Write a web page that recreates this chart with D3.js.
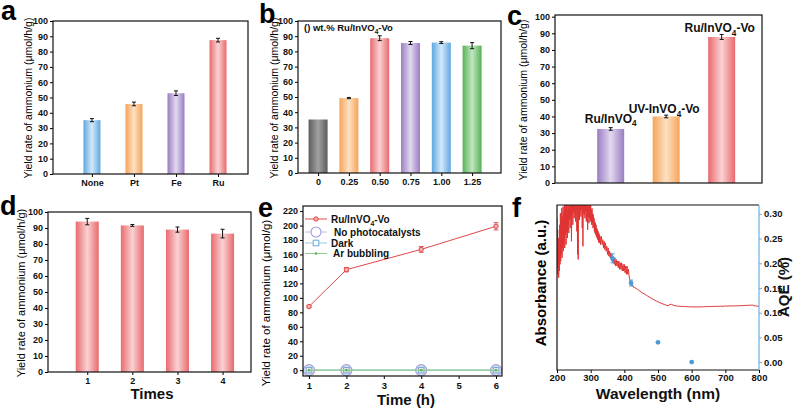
<!DOCTYPE html>
<html><head><meta charset="utf-8">
<script src="https://cdn.jsdelivr.net/npm/d3@7"></script>
<style>
body{margin:0;background:#fff;}
svg text{font-family:"Liberation Sans",Arial,sans-serif;}
</style></head><body>
<svg id="fig" width="800" height="409"></svg>
<script>
// ---- data ----
var catsA = ["None","Pt","Fe","Ru"],
    valsA = [35.2, 45.8, 52.8, 87.5],
    errsA = [1.0, 1.2, 1.5, 1.2],
    colsA = ["blue","orange","purple","red"];

var catsB = ["0","0.25","0.50","0.75","1.00","1.25"],
    valsB = [35.2, 49.3, 88.7, 85.5, 85.8, 83.8],
    errsB = [0, 0.4, 1.6, 1.0, 0.6, 2.0],
    colsB = ["gray","orange","red","purple","blue","green"];

var catsC = ["Ru/InVO_4","UV-InVO_4-Vo","Ru/InVO_4-Vo"],
    valsC = [32.5, 40.0, 87.8],
    errsC = [0.8, 0.8, 1.5],
    colsC = ["purple","orange","red"];

var catsD = ["1","2","3","4"],
    valsD = [94.0, 91.6, 89.0, 86.5],
    errsD = [2.0, 0.6, 1.6, 2.7],
    colsD = ["red","red","red","red"];

var ticks100 = [0,10,20,30,40,50,60,70,80,90,100];

var timeE = [1, 2, 4, 6],
    ruE = [88, 139, 167, 199],
    ruErrE = [1.5, 3, 4, 5],
    noCatE = [0, 0, 0, 0],
    darkE = [0, 0, 0, 0],
    arE = [0, 0, 0, 0],
    yTicksE = [0,20,40,60,80,100,120,140,160,180,200,220],
    xTicksE = [1,2,3,4,5,6];

// absorbance (a.u.), three sampling segments
var absStart1 = 200, absStep1 = 1, absVals1 = [
 0.92,0.62,0.85,0.58,0.80,0.56,0.74,0.60,0.88,0.64,
 0.95,0.66,0.90,0.70,0.98,0.68,0.93,0.74,0.99,0.72,
 0.96,0.78,1.01,0.74,0.97,0.82,1.02,0.76,1.00,0.84,
 0.97,0.80,1.03,0.88,0.99,0.83,1.04,0.91,1.00,0.86,
 1.05,0.92,1.02,0.78,1.06,0.94,1.03,0.88,1.07,0.96,
 1.04,0.92,1.08,0.95,1.03,0.90,1.06,0.97,1.02,0.84,
 1.05,0.70,1.04,0.67,1.06,0.94,1.03,0.91,1.07,0.96,
 1.02,0.93,1.06,0.97,1.03,0.86,1.05,0.75,1.04,0.95,
 1.06,0.94,1.02,0.92,1.05,0.96,1.01,0.90,1.04,0.93,
 1.00,0.85,1.03,0.93,0.99,0.89,1.02,0.92,0.98,0.90,
 1.00,0.91,0.97,0.88,0.98,0.89,0.95,0.86,0.94,0.87,
 0.92,0.84,0.90,0.83,0.89,0.82,0.88,0.81,0.86,0.80,
 0.85,0.79,0.84,0.78,0.83,0.77,0.82,0.77,0.81,0.76,
 0.79];
var absStart2 = 332, absStep2 = 2, absVals2 = [
 0.81,0.76,0.79,0.74,0.78,0.73,0.77,0.72,0.75,0.70,
 0.74,0.69,0.72,0.68,0.71,0.66,0.70,0.65,0.68,0.64,
 0.68,0.63,0.67,0.63,0.66,0.62,0.66,0.61,0.65,0.61,
 0.65,0.60,0.64,0.60,0.64,0.59,0.63,0.58,0.63,0.58,
 0.61,0.57,0.55,0.53,0.52,0.53,0.51,0.51,0.50,0.50];
var absStart3 = 435, absStep3 = 5, absVals3 = [
 0.495,0.487,0.480,0.472,0.466,0.460,0.454,0.447,0.441,0.435,
 0.429,0.423,0.418,0.413,0.408,0.404,0.400,0.396,0.392,0.389,
 0.397,0.398,0.393,0.390,0.388,0.387,0.386,0.385,0.386,0.384,
 0.384,0.383,0.383,0.382,0.383,0.382,0.382,0.383,0.382,0.383,
 0.383,0.384,0.384,0.385,0.384,0.385,0.386,0.385,0.386,0.386,
 0.387,0.386,0.387,0.388,0.387,0.388,0.388,0.389,0.388,0.389,
 0.389,0.390,0.389,0.391,0.390,0.392,0.391,0.393,0.392,0.394,
 0.390,0.388,0.387,0.386];

var aqeWl = [365, 420, 500, 600],
    aqeVal = [0.21, 0.16, 0.04, 0.0],
    aqeErr = [0.009, 0.006, 0, 0],
    xTicksF = [200,300,400,500,600,700,800],
    yTicksF = [0,0.05,0.10,0.15,0.20,0.25,0.30];

var palette = {
  blue:["#5ea8e0","#d4e9f9"], orange:["#f5a45a","#fde1c3"],
  purple:["#9a7dc2","#e2d8f0"], red:["#e86a6e","#fad2d3"],
  gray:["#5c5c5c","#a2a2a2"], green:["#56b256","#c2e6c2"]
};

var svg = d3.select("#fig");
var defs = svg.append("defs");
Object.keys(palette).forEach(function(k){
  var lg = defs.append("linearGradient").attr("id","g-"+k)
    .attr("x1","0%").attr("x2","100%").attr("y1","0%").attr("y2","0%");
  lg.append("stop").attr("offset","0%").attr("stop-color",palette[k][0]);
  lg.append("stop").attr("offset","50%").attr("stop-color",palette[k][1]);
  lg.append("stop").attr("offset","100%").attr("stop-color",palette[k][0]);
});

// text with "_4" style subscripts
function richText(sel, str, fs){
  var parts = str.split(/_(\d)/);
  parts.forEach(function(p, i){
    if(!p) return;
    var t = sel.append("tspan").text(p);
    if(i % 2 === 1) t.attr("font-size", fs*0.68).attr("dy", fs*0.3);
    else if(i > 1) t.attr("dy", -fs*0.3);
  });
}

function styleAxis(ax, fs){
  ax.attr("font-family","'Liberation Sans',Arial,sans-serif")
    .attr("font-size", fs).attr("font-weight","bold");
  ax.selectAll("text").attr("fill","#111");
  ax.select(".domain").remove();
}

function letter(s, x, y){
  svg.append("text").attr("x",x).attr("y",y).text(s)
    .attr("font-size",27).attr("font-weight","bold").attr("fill","#000");
}

function yTitle(s, x, y, fs, wt){
  svg.append("text").attr("transform","translate("+x+","+y+") rotate(-90)")
    .attr("text-anchor","middle").attr("font-size",fs).attr("font-weight",wt||"normal")
    .attr("fill","#000").text(s);
}

function barPanel(o){
  var g = svg.append("g");
  var x = d3.scalePoint().domain(o.cats).range([o.left,o.right]).padding(o.pad).align(o.align);
  var y = d3.scaleLinear().domain([0,o.ymax]).range([o.bottom,o.top]);
  var rows = o.vals.map(function(v,i){ return {c:o.cats[i], v:v, e:o.errs[i], col:o.cols[i]}; });
  g.selectAll("rect.bar").data(rows).join("rect").attr("class","bar")
    .attr("x", d => x(d.c) - o.bw/2).attr("y", d => y(d.v))
    .attr("width", o.bw).attr("height", d => y(0) - y(d.v))
    .attr("fill", d => "url(#g-"+d.col+")");
  var eb = g.selectAll("g.err").data(rows.filter(d => d.e > 0)).join("g").attr("class","err")
    .attr("stroke","#111").attr("stroke-width",1);
  eb.append("line").attr("x1", d => x(d.c)).attr("x2", d => x(d.c))
    .attr("y1", d => y(d.v - d.e)).attr("y2", d => y(d.v + d.e));
  eb.append("line").attr("x1", d => x(d.c)-2).attr("x2", d => x(d.c)+2)
    .attr("y1", d => y(d.v - d.e)).attr("y2", d => y(d.v - d.e));
  eb.append("line").attr("x1", d => x(d.c)-2).attr("x2", d => x(d.c)+2)
    .attr("y1", d => y(d.v + d.e)).attr("y2", d => y(d.v + d.e));

  var ya = g.append("g").attr("transform","translate("+o.left+",0)")
    .call(d3.axisLeft(y).tickValues(ticks100).tickSize(3).tickPadding(2));
  styleAxis(ya, 9);
  var xa = g.append("g").attr("transform","translate(0,"+o.bottom+")")
    .call(d3.axisBottom(x).tickSize(o.xlabels ? 3 : 0).tickPadding(3));
  styleAxis(xa, 9);
  if(!o.xlabels) xa.selectAll("text").remove();
  g.append("rect").attr("x",o.left).attr("y",o.top).attr("width",o.right-o.left)
    .attr("height",o.bottom-o.top).attr("fill","none").attr("stroke","#111").attr("stroke-width",1.2);
  return {g:g, x:x, y:y};
}

// ---- a ----
barPanel({cats:catsA, vals:valsA, errs:errsA, cols:colsA, left:53, right:248, top:21, bottom:174,
  ymax:100, pad:0.82, align:0.565, bw:17, xlabels:true});
letter("a", 1, 20);
yTitle("Yield rate of ammonium (\u03bcmol/h/g)", 32, 98, 10.5);

// ---- b ----
barPanel({cats:catsB, vals:valsB, errs:errsB, cols:colsB, left:298, right:501, top:21, bottom:173,
  ymax:100, pad:0.795, align:0.41, bw:19, xlabels:true});
letter("b", 259, 23);
yTitle("Yield rate of ammonium (\u03bcmol/h/g)", 278, 98, 10.5);
richText(svg.append("text").attr("x",304).attr("y",31).attr("font-size",9.5)
  .attr("font-weight","bold").attr("fill","#111"), "() wt.% Ru/InVO_4-Vo", 9.5);

// ---- c ----
var pc = barPanel({cats:catsC, vals:valsC, errs:errsC, cols:colsC, left:555, right:762, top:15, bottom:183,
  ymax:101, pad:0.865, align:0.58, bw:27, xlabels:false});
letter("c", 507, 25);
yTitle("Yield rate of ammonium (\u03bcmol/h/g)", 527, 100, 10.5);
var labDy = [-5, -2, -2];
catsC.forEach(function(c, i){
  var t = svg.append("text").attr("x", pc.x(c) + (i===0 ? 0 : -2)).attr("y", pc.y(valsC[i] + errsC[i]) + labDy[i])
    .attr("text-anchor","middle").attr("font-size",12).attr("font-weight","bold").attr("fill","#111");
  richText(t, c, 12);
});

// ---- d ----
barPanel({cats:catsD, vals:valsD, errs:errsD, cols:colsD, left:48, right:251, top:212, bottom:372,
  ymax:100, pad:0.75, align:0.58, bw:23, xlabels:true});
letter("d", 0, 215);
yTitle("Yield rate of ammonium (\u03bcmol/h/g)", 25, 293, 11);
svg.append("text").attr("x",152).attr("y",399).attr("text-anchor","middle")
  .attr("font-size",15).attr("font-weight","bold").attr("fill","#111").text("Times");

// ---- e ----
(function(){
  var L = 303, R = 502, T = 206, B = 376;
  var x = d3.scaleLinear().domain([0.84, 6.16]).range([L, R]);
  var y = d3.scaleLinear().domain([-8, 227]).range([B, T]);
  var g = svg.append("g");
  var line = d3.line().x(d => x(d[0])).y(d => y(d[1]));
  var zip = arr => timeE.map((t,i) => [t, arr[i]]);
  // zero-level controls
  g.append("path").datum(zip(noCatE)).attr("d",line).attr("fill","none").attr("stroke","#bdb6e6").attr("stroke-width",1);
  g.append("path").datum(zip(darkE)).attr("d",line).attr("fill","none").attr("stroke","#9cc8e8").attr("stroke-width",1);
  g.selectAll("circle.nc").data(zip(noCatE)).join("circle").attr("class","nc")
    .attr("cx", d => x(d[0])).attr("cy", d => y(d[1])).attr("r",5.5)
    .attr("fill","#e4e4ea").attr("stroke","#a39bd8").attr("stroke-width",1.2);
  g.selectAll("rect.dk").data(zip(darkE)).join("rect").attr("class","dk")
    .attr("x", d => x(d[0]) - 2.8).attr("y", d => y(d[1]) - 2.8).attr("width",5.6).attr("height",5.6)
    .attr("fill","none").attr("stroke","#6aaad8").attr("stroke-width",1);
  g.append("path").datum(zip(arE)).attr("d",line).attr("fill","none").attr("stroke","#8fcf8f").attr("stroke-width",1.2);
  g.selectAll("circle.ar").data(zip(arE)).join("circle").attr("class","ar")
    .attr("cx", d => x(d[0])).attr("cy", d => y(d[1])).attr("r",1.3).attr("fill","#5bb45b");
  // Ru series
  var red = "#e04848";
  g.append("path").datum(zip(ruE)).attr("d",line).attr("fill","none").attr("stroke",red).attr("stroke-width",1);
  var eb = g.selectAll("g.eb").data(timeE.map((t,i) => ({t:t, v:ruE[i], e:ruErrE[i]}))).join("g")
    .attr("stroke",red).attr("stroke-width",0.9);
  eb.append("line").attr("x1", d => x(d.t)).attr("x2", d => x(d.t)).attr("y1", d => y(d.v-d.e)).attr("y2", d => y(d.v+d.e));
  eb.append("line").attr("x1", d => x(d.t)-2.5).attr("x2", d => x(d.t)+2.5).attr("y1", d => y(d.v-d.e)).attr("y2", d => y(d.v-d.e));
  eb.append("line").attr("x1", d => x(d.t)-2.5).attr("x2", d => x(d.t)+2.5).attr("y1", d => y(d.v+d.e)).attr("y2", d => y(d.v+d.e));
  g.selectAll("circle.ru").data(zip(ruE)).join("circle").attr("class","ru")
    .attr("cx", d => x(d[0])).attr("cy", d => y(d[1])).attr("r",2.2)
    .attr("fill","#f4b0b0").attr("stroke",red).attr("stroke-width",1);

  var ya = g.append("g").attr("transform","translate("+L+",0)")
    .call(d3.axisLeft(y).tickValues(yTicksE).tickSize(3).tickPadding(2));
  styleAxis(ya, 9);
  var xa = g.append("g").attr("transform","translate(0,"+B+")")
    .call(d3.axisBottom(x).tickValues(xTicksE).tickFormat(d3.format("d")).tickSize(3).tickPadding(3));
  styleAxis(xa, 9.5);
  g.append("rect").attr("x",L).attr("y",T).attr("width",R-L).attr("height",B-T)
    .attr("fill","none").attr("stroke","#111").attr("stroke-width",1.2);

  // legend
  var lx0 = 305, lx1 = 327, lxc = 316;
  var lg = g.append("g");
  lg.append("line").attr("x1",lx0).attr("x2",lx1).attr("y1",219).attr("y2",219).attr("stroke",red);
  lg.append("circle").attr("cx",lxc).attr("cy",219).attr("r",2.2).attr("fill","#f4b0b0").attr("stroke",red);
  lg.append("line").attr("x1",lx0).attr("x2",lx1).attr("y1",232).attr("y2",232).attr("stroke","#bdb6e6");
  lg.append("circle").attr("cx",lxc).attr("cy",232).attr("r",5).attr("fill","#fff").attr("stroke","#a39bd8").attr("stroke-width",1.1);
  lg.append("line").attr("x1",lx0).attr("x2",lx1).attr("y1",243).attr("y2",243).attr("stroke","#9cc8e8");
  lg.append("rect").attr("x",lxc-2.8).attr("y",240.2).attr("width",5.6).attr("height",5.6).attr("fill","#fff").attr("stroke","#6aaad8");
  lg.append("line").attr("x1",lx0).attr("x2",lx1).attr("y1",253.5).attr("y2",253.5).attr("stroke","#8fcf8f");
  lg.append("circle").attr("cx",lxc).attr("cy",253.5).attr("r",1.3).attr("fill","#5bb45b");
  var lt = [["Ru/InVO_4-Vo",331,222.5],["No photocatalysts",334,236],["Dark",331,246.5],["Ar bubbling",333,257]];
  lt.forEach(function(d){
    richText(lg.append("text").attr("x",d[1]).attr("y",d[2]).attr("font-size",10)
      .attr("font-weight","bold").attr("fill","#111"), d[0], 10);
  });
})();
letter("e", 258, 217);
yTitle("Yield rate of ammonium (\u03bcmol/g)", 270, 303, 11.5);
svg.append("text").attr("x",406).attr("y",405).attr("text-anchor","middle")
  .attr("font-size",15).attr("font-weight","bold").attr("fill","#111").text("Time (h)");

// ---- f ----
(function(){
  var L = 557, R = 759, T = 205, B = 370;
  var x = d3.scaleLinear().domain([200, 800]).range([L, R]);
  var yAbs = d3.scaleLinear().domain([0, 1]).range([B, T]);
  var yQ = d3.scaleLinear().domain([-0.016, 0.318]).range([B, T]);
  var g = svg.append("g");
  defs.append("clipPath").attr("id","clipF").append("rect")
    .attr("x",L).attr("y",T).attr("width",R-L).attr("height",B-T);
  var pts = [];
  absVals1.forEach((v,i) => pts.push([absStart1 + i*absStep1, v]));
  absVals2.forEach((v,i) => pts.push([absStart2 + i*absStep2, v]));
  absVals3.forEach((v,i) => pts.push([absStart3 + i*absStep3, v]));
  g.append("path").datum(pts).attr("clip-path","url(#clipF)")
    .attr("d", d3.line().x(d => x(d[0])).y(d => yAbs(d[1])))
    .attr("fill","none").attr("stroke","#e03434").attr("stroke-width",1);

  var blue = "#4c9bd6";
  var rows = aqeWl.map((w,i) => ({w:w, v:aqeVal[i], e:aqeErr[i]}));
  var eb = g.selectAll("g.aq").data(rows.filter(d => d.e > 0)).join("g").attr("stroke",blue).attr("stroke-width",1);
  eb.append("line").attr("x1", d => x(d.w)).attr("x2", d => x(d.w)).attr("y1", d => yQ(d.v-d.e)).attr("y2", d => yQ(d.v+d.e));
  eb.append("line").attr("x1", d => x(d.w)-2).attr("x2", d => x(d.w)+2).attr("y1", d => yQ(d.v-d.e)).attr("y2", d => yQ(d.v-d.e));
  eb.append("line").attr("x1", d => x(d.w)-2).attr("x2", d => x(d.w)+2).attr("y1", d => yQ(d.v+d.e)).attr("y2", d => yQ(d.v+d.e));
  g.selectAll("circle.aq").data(rows).join("circle").attr("class","aq")
    .attr("cx", d => x(d.w)).attr("cy", d => yQ(d.v)).attr("r",2.4).attr("fill",blue);

  var xa = g.append("g").attr("transform","translate(0,"+B+")")
    .call(d3.axisBottom(x).tickValues(xTicksF).tickSize(3).tickPadding(1));
  styleAxis(xa, 9.5);
  var ya = g.append("g").attr("transform","translate("+R+",0)")
    .call(d3.axisRight(yQ).tickValues(yTicksF).tickSize(3).tickPadding(2).tickFormat(d3.format(".2f")));
  styleAxis(ya, 9.5);
  ya.selectAll("line").attr("stroke","#6fb0dc");
  g.append("path").attr("d","M"+R+","+T+"H"+L+"V"+B+"H"+R)
    .attr("fill","none").attr("stroke","#111").attr("stroke-width",1.2);
  g.append("line").attr("x1",R).attr("x2",R).attr("y1",T).attr("y2",B)
    .attr("stroke","#6fb0dc").attr("stroke-width",1.2);
})();
letter("f", 512, 217);
yTitle("Absorbance (a.u.)", 546, 283, 15, "bold");
svg.append("text").attr("transform","translate(789,287) rotate(-90)").attr("text-anchor","middle")
  .attr("font-size",15).attr("font-weight","bold").attr("fill","#111").text("AQE (%)");
svg.append("text").attr("x",658).attr("y",399).attr("text-anchor","middle")
  .attr("font-size",15.5).attr("font-weight","bold").attr("fill","#111").text("Wavelength (nm)");
</script>
</body></html>
